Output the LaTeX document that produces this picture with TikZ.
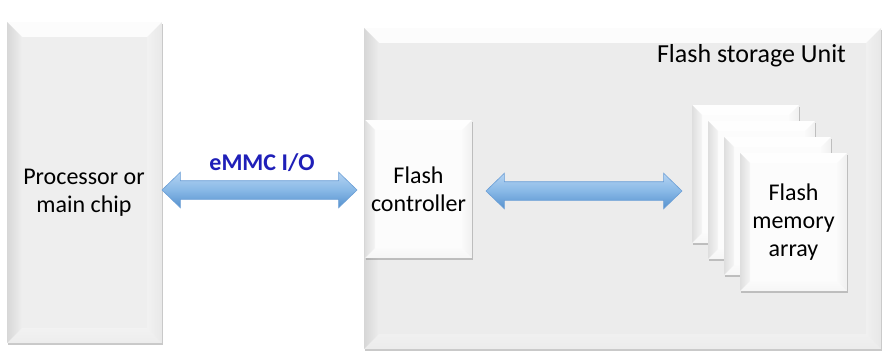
\documentclass[tikz,border=0pt]{standalone}
\usepackage{fontspec}
\setmainfont{Carlito}
\usetikzlibrary{shapes.arrows,shadows}
\definecolor{boxgray}{HTML}{ECECEC}
\definecolor{procgray}{HTML}{EEEEEE}
\definecolor{cardwhite}{HTML}{FCFCFC}
\definecolor{emmcblue}{HTML}{1F1FB8}
\definecolor{arrtop}{HTML}{B4D3F2}
\definecolor{arrmid}{HTML}{88B8E6}
\definecolor{arrbot}{HTML}{5591CE}
\definecolor{arrline}{HTML}{6A9ED6}
\tikzset{
  bevel/.style={path picture={
    \path (path picture bounding box.north west) coordinate (bvnw)
          (path picture bounding box.north east) coordinate (bvne)
          (path picture bounding box.south west) coordinate (bvsw)
          (path picture bounding box.south east) coordinate (bvse);
    \fill[white,opacity=.85] (bvnw) -- (bvne) -- ([xshift=-#1,yshift=-#1]bvne) -- ([xshift=#1,yshift=-#1]bvnw) -- cycle;
    \shade[left color=black!24, right color=black!6, opacity=.5] (bvnw) -- ([xshift=#1,yshift=-#1]bvnw) -- ([xshift=#1,yshift=#1]bvsw) -- (bvsw) -- cycle;
    \shade[left color=black!3, right color=black!12, opacity=.4] (bvne) -- ([xshift=-#1,yshift=-#1]bvne) -- ([xshift=-#1,yshift=#1]bvse) -- (bvse) -- cycle;
    \shade[top color=black!2, bottom color=black!8, opacity=.35] (bvsw) -- ([xshift=#1,yshift=#1]bvsw) -- ([xshift=-#1,yshift=#1]bvse) -- (bvse) -- cycle;
  }},
  panel/.style={rectangle, draw=none, inner sep=0pt,
    drop shadow={shadow xshift=1.3pt, shadow yshift=-1.6pt, opacity=.35, fill=black!60}},
  bigbox/.style={panel, fill=#1, bevel=15pt, minimum width=517pt, minimum height=321pt},
  card/.style={panel, fill=cardwhite, bevel=10pt, minimum width=107pt, minimum height=138pt,
    align=center, font=\fontsize{24}{28}\selectfont},
  bus/.style={double arrow, inner xsep=0pt, inner ysep=9pt,
    double arrow head extend=8.5pt, double arrow tip angle=88,
    top color=arrtop, bottom color=arrbot, middle color=arrmid,
    draw=arrline, line width=.6pt},
  lbl/.style={inner sep=0pt, align=center, font=\fontsize{24}{28}\selectfont}
}
\begin{document}
\begin{tikzpicture}[x=1pt,y=-1pt]
\useasboundingbox[fill=white] (0,0) rectangle (890,361);
% processor
\node[bigbox=procgray, minimum width=155pt] (proc) at (84.5,182.5) {};
\node[lbl] (proct) at (84,193) {Processor or\\main chip};
% storage unit
\node[bigbox=boxgray] (unit) at (622.5,188.5) {};
\node[lbl, anchor=base, font=\fontsize{26}{30}\selectfont] (unitt) at (751.5,63) {Flash storage Unit};
% controller
\node[card] (ctrl) at (418.5,189) {Flash\\controller};
% memory cards
\node[card] (m1) at (745.5,174) {};
\node[card] (m2) at (761.5,190) {};
\node[card] (m3) at (777.5,206) {};
\node[card] (m4) at (793.5,222) {Flash\\memory\\array};
% buses
\node[bus, minimum height=195pt] (io) at (259.5,190) {};
\node[lbl, anchor=base, font=\fontsize{24}{28}\selectfont\bfseries, text=emmcblue] (iot) at (262,170) {eMMC I/O};
\node[bus, minimum height=196pt] (int) at (584,191) {};
\end{tikzpicture}
\end{document}
